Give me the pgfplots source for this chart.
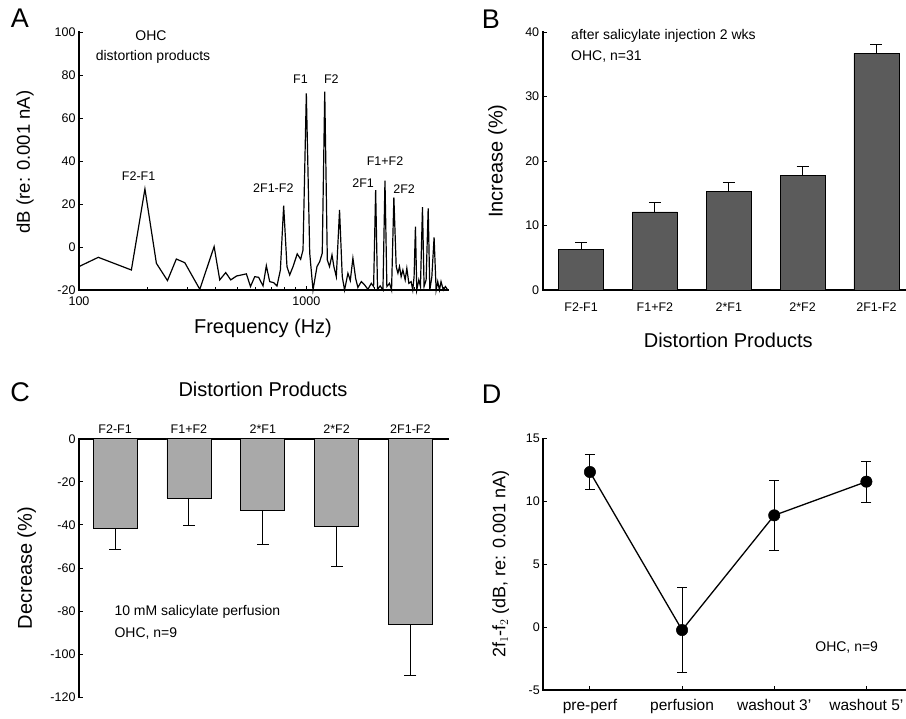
\documentclass[border=0pt]{standalone}
\usepackage{pgfplots}
\pgfplotsset{compat=1.18}
\usepackage{fontspec}
\setmainfont{Liberation Sans}
\definecolor{bardark}{HTML}{5B5B5B}
\definecolor{barlight}{HTML}{A9A9A9}
\newcommand\fs[1]{\fontsize{#1}{#1}\selectfont}
\pgfplotsset{
  panel/.style={scale only axis, anchor=south west,
    axis line style={line width=1.8pt, line cap=rect},
    every tick/.style={black, line width=0.9pt},
    tick align=inside, major tick length=4pt, minor tick length=3pt,
    tick label style={font=\fs{12.5}},
    /pgf/number format/assume math mode=true,
    clip=false,
  },
}
\begin{document}
\begin{tikzpicture}[x=1pt,y=1pt]
\path[use as bounding box] (0pt,0pt) rectangle (906pt,-719pt);

% ---------------- Panel A
\begin{axis}[panel, at={(79pt,-290pt)}, width=369pt, height=258pt,
  xmode=log, xmin=100, xmax=4200, ymin=-20, ymax=100,
  axis x line*=bottom, axis y line*=left,
  xtick={100,1000}, xticklabels={100,1000},
  xticklabel style={yshift=-3pt},
  minor xtick={200,300,400,500,600,700,800,900,2000,3000,4000},
  ytick={-20,0,20,40,60,80,100}]
\addplot[black, line width=1.2pt] table {
x y
100 -9.1
121.6 -4.8
170 -10.7
195 27
219 -7.6
245 -15.6
268 -5.6
292 -7.3
340 -19.7
393 0.2
416 -15.3
442 -11.9
465 -15.3
493 -13.5
545 -12.5
568 -18.4
593 -13.8
617 -14.1
645 -18.1
667 -8.7
690 -16.1
719 -16.6
743 -18.1
769 -10.7
795 19.2
822 -9.1
845 -13
874 -9.1
912 -3.2
944 -5.7
967 -1.4
1000 71.5
1035 -2.9
1070 -20
1114 -9.1
1145 -6.8
1175 -2.9
1205 72.3
1237 -6
1265 -9.1
1297 -3.7
1322 -9.1
1355 -13.8
1400 17.2
1439 -13.8
1473 -20
1524 -12.2
1561 -15.6
1603 -5.2
1648 -14.6
1686 -18.8
1745 -16.1
1803 -17.6
1866 -19.7
1931 -16.9
1977 -18.4
2018 26.5
2057 -19.7
2113 -18.1
2173 -20
2218 30.9
2261 -18.4
2323 -16.9
2371 -20
2427 23.1
2485 -9.1
2529 -12.2
2570 -9.1
2613 -13.8
2659 -10.7
2722 -15.3
2768 -9.9
2825 -16.9
2891 -16.1
2939 -20
2979 -13.8
3020 9.5
3061 -20
3125 -15.3
3177 -18.4
3243 18.5
3296 -18.4
3365 -15.3
3436 18
3493 -20
3566 -13.8
3648 4.5
3724 -20
3785 -16.1
3852 -20
3914 -16.1
4005 -20
4090 -18.4
4190 -20
};
\node[font=\fs{12.5}] at (axis cs:183,33) {F2-F1};
\node[font=\fs{12.5}] at (axis cs:716,27.4) {2F1-F2};
\node[font=\fs{12.5}] at (axis cs:942,78.1) {F1};
\node[font=\fs{12.5}] at (axis cs:1288,78.1) {F2};
\node[font=\fs{12.5}] at (axis cs:2220,40) {F1+F2};
\node[font=\fs{12.5}] at (axis cs:1778,29.8) {2F1};
\node[font=\fs{12.5}] at (axis cs:2693,27) {2F2};
\end{axis}
\node[font=\fs{27}] at (20pt,-18pt) {A};
\node[font=\fs{18.5}, rotate=90] at (25pt,-162pt) {dB (re: 0.001 nA)};
\node[font=\fs{20}] at (263pt,-328pt) {Frequency (Hz)};
\node[font=\fs{14}] at (151pt,-36pt) {OHC};
\node[font=\fs{14}] at (153pt,-56.7pt) {distortion products};

% ---------------- Panel B
\begin{axis}[panel, at={(542.7pt,-290pt)}, width=363.3pt, height=258pt,
  xmin=-0.52, xmax=4.4, ymin=0, ymax=40,
  axis x line*=bottom, axis y line*=left,
  xtick={0,1,2,3,4}, xticklabels={F2-F1,F1+F2,2*F1,2*F2,2F1-F2},
  x tick style={draw=none}, xticklabel style={yshift=-9pt},
  ytick={0,10,20,30,40}]
\addplot[ybar, bar width=45pt, fill=bardark, draw=black, line width=0.8pt,
  error bars/.cd, y dir=plus, y explicit,
  error bar style={line width=1pt, black},
  error mark options={rotate=90, mark size=6pt, line width=1pt, black}]
  coordinates {(0,6.3) +- (0,1.05) (1,12.1) +- (0,1.4) (2,15.3) +- (0,1.4) (3,17.7) +- (0,1.4) (4,36.7) +- (0,1.35)};
\end{axis}
\node[font=\fs{27}] at (491pt,-19pt) {B};
\node[font=\fs{20}, rotate=90] at (497.5pt,-161pt) {Increase (\%)};
\node[font=\fs{20}] at (728.3pt,-340.8pt) {Distortion Products};
\node[font=\fs{14}, anchor=west] at (567.7pt,-36pt) {after salicylate injection 2 wks};
\node[font=\fs{14}, anchor=west] at (567.7pt,-56.7pt) {OHC, n=31};

% ---------------- Panel C
\begin{axis}[panel, at={(79pt,-697.3pt)}, width=369pt, height=258.6pt,
  xmin=-0.49, xmax=4.51, ymin=-120, ymax=0,
  axis x line*=top, axis y line*=left, xticklabel pos=top,
  xtick={0,1,2,3,4}, xticklabels={F2-F1,F1+F2,2*F1,2*F2,2F1-F2},
  x tick style={draw=none}, xticklabel style={yshift=2pt},
  ytick={-120,-100,-80,-60,-40,-20,0}]
\addplot[ybar, bar width=44pt, fill=barlight, draw=black, line width=0.8pt,
  error bars/.cd, y dir=minus, y explicit,
  error bar style={line width=1pt, black},
  error mark options={rotate=90, mark size=6pt, line width=1pt, black}]
  coordinates {(0,-41.6) +- (0,9.7) (1,-27.5) +- (0,12.9) (2,-33.4) +- (0,15.9) (3,-40.7) +- (0,18.4) (4,-86) +- (0,23.8)};
\end{axis}
\node[font=\fs{27}] at (20pt,-392.5pt) {C};
\node[font=\fs{20}] at (263pt,-389.5pt) {Distortion Products};
\node[font=\fs{20}, rotate=90] at (26.7pt,-568pt) {Decrease (\%)};
\node[font=\fs{14}, anchor=west] at (111pt,-612.3pt) {10 mM salicylate perfusion};
\node[font=\fs{14}, anchor=west] at (111pt,-634pt) {OHC, n=9};

% ---------------- Panel D
\begin{axis}[panel, at={(543.3pt,-690pt)}, width=362.7pt, height=251.3pt,
  xmin=-0.506, xmax=3.43, ymin=-5, ymax=15,
  axis x line*=bottom, axis y line*=left,
  xtick={0,1,2,3}, xticklabels={pre-perf,perfusion,washout 3',washout 5'},
  xticklabel style={font=\fs{15.5}, yshift=-6pt},
  ytick={-5,0,5,10,15}]
\addplot[black, line width=1.3pt, mark=*, mark size=5.7pt, mark options={fill=black, line width=0.5pt},
  error bars/.cd, y dir=both, y explicit,
  error bar style={line width=1pt, black},
  error mark options={rotate=90, mark size=5pt, line width=1pt, black}]
  coordinates {(0,12.35) +- (0,1.37) (1,-0.23) +- (0,3.37) (2,8.9) +- (0,2.76) (3,11.58) +- (0,1.62)};
\end{axis}
\node[font=\fs{27}] at (491.7pt,-394pt) {D};
\node[font=\fs{18}, rotate=90] at (500.8pt,-564.2pt) {2f$_1$-f$_2$ (dB, re: 0.001 nA)};
\node[font=\fs{14}] at (846.7pt,-647.3pt) {OHC, n=9};
\end{tikzpicture}
\end{document}
